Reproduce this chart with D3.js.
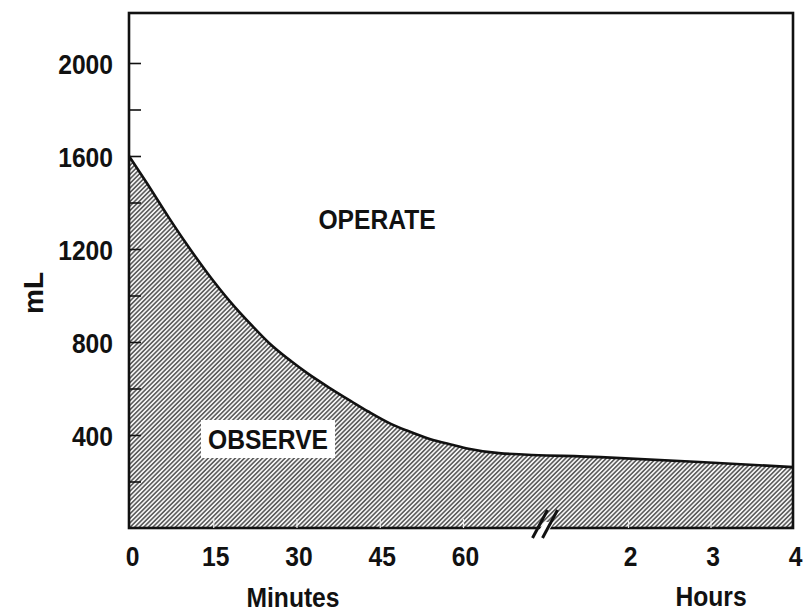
<!DOCTYPE html>
<html>
<head>
<meta charset="utf-8">
<script src="https://cdn.jsdelivr.net/npm/d3@7"></script>
<style>
  html, body { margin: 0; padding: 0; background: #fff; }
  svg text { font-family: "Liberation Sans", Arial, Helvetica, sans-serif; font-weight: bold; fill: #111; }
</style>
</head>
<body>
<svg id="chart" width="804" height="615"></svg>
<script>
// ---- data (time in minutes, volume in mL) ----
const times   = [0, 3, 7, 10, 14, 18, 22, 25, 29, 32, 36, 40, 43, 47, 50, 54, 58, 62, 73, 110, 172, 240];
const volumes = [1600, 1485, 1335, 1228, 1095, 975, 870, 797, 718, 665, 602, 543, 500, 448, 418, 383, 358, 341, 322, 305, 284, 262];
const yTicks = [200, 400, 600, 800, 1000, 1200, 1400, 1600, 1800, 2000];
const yLabels = [400, 800, 1200, 1600, 2000];
const xTicks = [0, 15, 30, 45, 60, 120, 180, 240];
const xTickLabels = ["0", "15", "30", "45", "60", "2", "3", "4"];
const regionLabels = ["OPERATE", "OBSERVE"];
const axisTitles = { y: "mL", minutes: "Minutes", hours: "Hours" };

(function () {
const svg = d3.select("#chart");
const pLeft = 129, pRight = 793, pTop = 13, pBottom = 528;

// piecewise time scale with a break between 60 min and 2 h
const x = d3.scaleLinear().domain([0, 60, 120, 240]).range([130, 463, 628, 793]);
const y = d3.scaleLinear().domain([0, 2000]).range([pBottom, 63]);

const data = times.map((t, i) => ({ t, v: volumes[i] }));

// hatch pattern
const defs = svg.append("defs");
const pat = defs.append("pattern")
  .attr("id", "hatch").attr("patternUnits", "userSpaceOnUse")
  .attr("width", 3.2).attr("height", 3.2)
  .attr("patternTransform", "rotate(45)");
pat.append("rect").attr("width", 3.2).attr("height", 3.2).attr("fill", "#f4f4f4");
pat.append("line").attr("x1", 0.8).attr("y1", 0).attr("x2", 0.8).attr("y2", 3.2)
  .attr("stroke", "#333").attr("stroke-width", 1.25);

const xAcc = (d, i) => i === 0 ? pLeft : x(d.t);

// shaded "observe" area
svg.append("path").datum(data)
  .attr("d", d3.area().x(xAcc).y0(y(0)).y1(d => y(d.v)).curve(d3.curveMonotoneX))
  .attr("fill", "url(#hatch)");

// boundary curve
svg.append("path").datum(data)
  .attr("d", d3.line().x(xAcc).y(d => y(d.v)).curve(d3.curveMonotoneX))
  .attr("fill", "none").attr("stroke", "#111").attr("stroke-width", 2.6);

// frame
svg.append("rect")
  .attr("x", pLeft).attr("y", pTop).attr("width", pRight - pLeft).attr("height", pBottom - pTop)
  .attr("fill", "none").attr("stroke", "#111").attr("stroke-width", 2.6);

const SX = 0.88;

// y axis: ticks inward, labels outside
const yAxis = d3.axisLeft(y)
  .tickValues(yTicks)
  .tickSize(-12).tickPadding(0)
  .tickFormat(d => yLabels.includes(d) ? d : "");
const gy = svg.append("g").attr("transform", `translate(${pLeft},0)`).call(yAxis);
gy.select(".domain").remove();
gy.selectAll(".tick line").attr("stroke", "#111").attr("stroke-width", 1.6);
gy.selectAll(".tick text")
  .attr("x", 0).attr("dy", "0.36em")
  .attr("transform", `translate(-16,0) scale(${SX},1)`)
  .style("font-size", "28px").style("font-family", "'Liberation Sans', Arial, sans-serif")
  .style("font-weight", "bold").attr("fill", "#111");

// x axis: small inward ticks, labels below
const xAxis = d3.axisBottom(x)
  .tickValues(xTicks)
  .tickSize(-9).tickPadding(0)
  .tickFormat((d, i) => xTickLabels[i]);
const gx = svg.append("g").attr("transform", `translate(0,${pBottom})`).call(xAxis);
gx.select(".domain").remove();
gx.selectAll(".tick line")
  .attr("stroke", "#eee").attr("stroke-width", 1.2)
  .attr("display", d => (d === 0 || d === 240) ? "none" : null);
gx.selectAll(".tick text")
  .attr("y", 0).attr("dy", 0)
  .attr("transform", `translate(2,38) scale(${SX},1)`)
  .style("font-size", "28px").style("font-family", "'Liberation Sans', Arial, sans-serif")
  .style("font-weight", "bold").attr("fill", "#111");

// axis break "//"
const bx = (x(60) + x(120)) / 2;
svg.append("polygon")
  .attr("points", `${bx - 9},${pBottom + 6} ${bx + 1},${pBottom + 6} ${bx + 9},${pBottom - 6} ${bx - 1},${pBottom - 6}`)
  .attr("fill", "#fff");
[-5, 5].forEach(off => {
  svg.append("line")
    .attr("x1", bx + off - 8).attr("y1", pBottom + 10)
    .attr("x2", bx + off + 7).attr("y2", pBottom - 18)
    .attr("stroke", "#111").attr("stroke-width", 3);
});

// axis titles
svg.append("text")
  .attr("transform", `translate(43,293) rotate(-90)`)
  .attr("text-anchor", "middle").style("font-size", "28px")
  .text(axisTitles.y);
svg.append("text")
  .attr("transform", `translate(293,607) scale(${SX},1)`)
  .attr("text-anchor", "middle").style("font-size", "28px")
  .text(axisTitles.minutes);
svg.append("text")
  .attr("transform", `translate(711,606) scale(${SX},1)`)
  .attr("text-anchor", "middle").style("font-size", "28px")
  .text(axisTitles.hours);

// region labels
svg.append("text")
  .attr("transform", `translate(377,229) scale(${SX},1)`)
  .attr("text-anchor", "middle").style("font-size", "28px")
  .text(regionLabels[0]);
svg.append("rect")
  .attr("x", 201).attr("y", 420).attr("width", 134).attr("height", 38)
  .attr("fill", "#fff");
svg.append("text")
  .attr("transform", `translate(268,449) scale(${SX},1)`)
  .attr("text-anchor", "middle").style("font-size", "28px")
  .text(regionLabels[1]);
})();
</script>
</body>
</html>
